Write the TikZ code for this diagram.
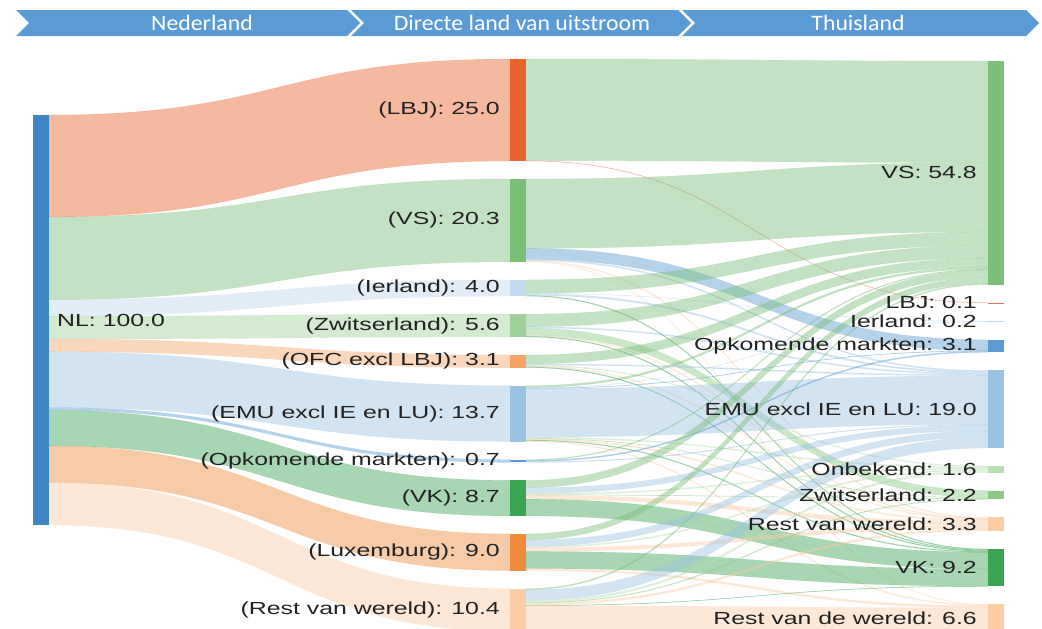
\documentclass[tikz,border=0pt]{standalone}
\usepackage{fontspec}
\setmainfont{Liberation Sans}
\newfontfamily\lblfont[FakeStretch=1.42]{Liberation Sans}
\newfontfamily\headfont[FakeStretch=1.08]{Carlito}
\usepackage{xcolor}
\usepackage{tikz}
\usetikzlibrary{positioning,backgrounds}

\definecolor{headblue}{HTML}{5B9BD5}
\definecolor{txtgray}{HTML}{222222}
\definecolor{cNL}{HTML}{3C86C6}
\definecolor{cLBJ}{HTML}{E8642C}
\definecolor{cVS}{HTML}{7BBF79}
\definecolor{cIE}{HTML}{C2D8EE}
\definecolor{cCH}{HTML}{9FD09A}
\definecolor{cOFC}{HTML}{F5A468}
\definecolor{cEMU}{HTML}{9CC2E2}
\definecolor{cOPK}{HTML}{5B9BD3}
\definecolor{cVK}{HTML}{3BA556}
\definecolor{cLU}{HTML}{F08B3D}
\definecolor{cRVW}{HTML}{FBCDA6}
\definecolor{cLBJr}{HTML}{EE6F5E}
\definecolor{cONB}{HTML}{B8DEB3}
\definecolor{cCHr}{HTML}{8ACA86}

% one band: source, offset at source, target, offset at target, value, colour
\newcommand{\flow}[6]{%
  \path[flowband, fill=#6, draw=#6]
    ([yshift={-4.08pt*(#2)}]#1.north east) .. controls +(231,0) and +(-231,0) ..
    ([yshift={-4.08pt*(#4)}]#3.north west) --
    ([yshift={-4.08pt*(#4+#5)}]#3.north west) .. controls +(-231,0) and +(231,0) ..
    ([yshift={-4.08pt*(#2+#5)}]#1.north east) -- cycle;}

% header arrow piece: left x, right x
\newcommand{\chevron}[2]{%
  \fill[headblue] (#1,10) -- (#2,10) -- (#2+13,23) -- (#2,36) -- (#1,36) -- (#1+13,23) -- cycle;}

\begin{document}
\begin{tikzpicture}[x=1pt, y=-1pt, node distance=18pt,
    landbar/.style={rectangle, inner sep=0pt, outer sep=0pt, minimum width=16pt, minimum height=#1*4.08pt},
    lbl/.style={inner sep=0pt, text=txtgray, font=\lblfont\fontsize{17.5}{20}\selectfont},
    headtxt/.style={inner sep=0pt, text=white, font=\headfont\fontsize{22}{24}\selectfont},
    flowband/.style={fill opacity=0.45, draw opacity=0.25, line width=0.3pt}]
  \useasboundingbox (0,0) rectangle (1042,629);

  % header
  \chevron{16}{347}
  \chevron{351}{678}
  \chevron{682}{1026}
  \node[headtxt] (hNL) at (202,23) {Nederland};
  \node[headtxt] (hDir) at (522,23) {Directe land van uitstroom};
  \node[headtxt] (hThuis) at (858,23) {Thuisland};

  % Nederland
  \node[landbar=100.5, fill=cNL, anchor=north] (nl) at (41,115) {};

  % directe land van uitstroom
  \node[landbar=25.0, fill=cLBJ, anchor=north] (lbjM) at (518,59) {};
  \node[landbar=20.3, fill=cVS, below=of lbjM] (vsM) {};
  \node[landbar=4.0, fill=cIE, below=of vsM] (ieM) {};
  \node[landbar=5.6, fill=cCH, below=of ieM] (chM) {};
  \node[landbar=3.1, fill=cOFC, below=of chM] (ofcM) {};
  \node[landbar=13.7, fill=cEMU, below=of ofcM] (emuM) {};
  \node[landbar=0.7, fill=cOPK, below=of emuM] (opkM) {};
  \node[landbar=8.7, fill=cVK, below=of opkM] (vkM) {};
  \node[landbar=9.0, fill=cLU, below=of vkM] (luM) {};
  \node[landbar=10.4, fill=cRVW, below=of luM] (rvwM) {};

  % thuisland
  \node[landbar=54.8, fill=cVS, anchor=north] (vsR) at (996,61) {};
  \node[landbar=0.1, fill=cLBJr, below=of vsR] (lbjR) {};
  \node[landbar=0.2, fill=cIE, below=of lbjR] (ieR) {};
  \node[landbar=3.1, fill=cOPK, below=of ieR] (opkR) {};
  \node[landbar=19.0, fill=cEMU, below=of opkR] (emuR) {};
  \node[landbar=1.6, fill=cONB, below=of emuR] (onbR) {};
  \node[landbar=2.2, fill=cCHr, below=of onbR] (chR) {};
  \node[landbar=3.3, fill=cRVW, below=of chR] (rvwR) {};
  \node[landbar=9.2, fill=cVK, below=of rvwR] (vkR) {};
  \node[landbar=6.6, fill=cRVW, below=of vkR] (rvdwR) {};

  \begin{pgfonlayer}{background}
    % NL -> directe land
    \flow{nl}{0}{lbjM}{0}{25.0}{cLBJ}
    \flow{nl}{25.0}{vsM}{0}{20.3}{cVS}
    \flow{nl}{45.3}{ieM}{0}{4.0}{cIE}
    \flow{nl}{49.3}{chM}{0}{5.6}{cCH}
    \flow{nl}{54.9}{ofcM}{0}{3.1}{cOFC}
    \flow{nl}{58.0}{emuM}{0}{13.7}{cEMU}
    \flow{nl}{71.7}{opkM}{0}{0.7}{cOPK}
    \flow{nl}{72.4}{vkM}{0}{8.7}{cVK}
    \flow{nl}{81.1}{luM}{0}{9.0}{cLU}
    \flow{nl}{90.1}{rvwM}{0}{10.4}{cRVW}
    % directe land -> thuisland
    \flow{lbjM}{0}{vsR}{0}{24.9}{cVS}
    \flow{lbjM}{24.9}{lbjR}{0}{0.1}{cLBJr}
    \flow{vsM}{0}{vsR}{24.9}{17.0}{cVS}
    \flow{vsM}{17.0}{opkR}{0}{2.7}{cOPK}
    \flow{vsM}{19.7}{emuR}{0}{0.3}{cEMU}
    \flow{vsM}{20.0}{rvwR}{0}{0.2}{cRVW}
    \flow{vsM}{20.2}{rvdwR}{0}{0.1}{cRVW}
    \flow{ieM}{0}{vsR}{41.9}{3.3}{cVS}
    \flow{ieM}{3.3}{ieR}{0}{0.1}{cIE}
    \flow{ieM}{3.4}{emuR}{0.3}{0.4}{cEMU}
    \flow{ieM}{3.8}{vkR}{0}{0.2}{cVK}
    \flow{chM}{0}{vsR}{45.2}{3.1}{cVS}
    \flow{chM}{3.1}{emuR}{0.7}{0.3}{cEMU}
    \flow{chM}{3.4}{chR}{0}{1.8}{cCHr}
    \flow{chM}{5.2}{rvwR}{0.2}{0.2}{cRVW}
    \flow{chM}{5.4}{vkR}{0.2}{0.2}{cVK}
    \flow{ofcM}{0}{vsR}{48.3}{2.2}{cVS}
    \flow{ofcM}{2.2}{emuR}{1.0}{0.3}{cEMU}
    \flow{ofcM}{2.5}{onbR}{0}{0.2}{cONB}
    \flow{ofcM}{2.7}{rvwR}{0.4}{0.2}{cRVW}
    \flow{ofcM}{2.9}{vkR}{0.4}{0.2}{cVK}
    \flow{emuM}{0}{vsR}{50.5}{0.5}{cVS}
    \flow{emuM}{0.5}{ieR}{0.1}{0.1}{cIE}
    \flow{emuM}{0.6}{opkR}{2.7}{0.1}{cOPK}
    \flow{emuM}{0.7}{emuR}{1.3}{11.9}{cEMU}
    \flow{emuM}{12.6}{onbR}{0.2}{0.3}{cONB}
    \flow{emuM}{12.9}{chR}{1.8}{0.1}{cCHr}
    \flow{emuM}{13.0}{rvwR}{0.6}{0.3}{cRVW}
    \flow{emuM}{13.3}{vkR}{0.6}{0.2}{cVK}
    \flow{emuM}{13.5}{rvdwR}{0.1}{0.2}{cRVW}
    \flow{opkM}{0}{vsR}{51.0}{0.2}{cVS}
    \flow{opkM}{0.2}{opkR}{2.8}{0.3}{cOPK}
    \flow{opkM}{0.5}{emuR}{13.2}{0.2}{cEMU}
    \flow{vkM}{0}{vsR}{51.2}{1.8}{cVS}
    \flow{vkM}{1.8}{emuR}{13.4}{1.4}{cEMU}
    \flow{vkM}{3.2}{onbR}{0.5}{0.3}{cONB}
    \flow{vkM}{3.5}{chR}{1.9}{0.1}{cCHr}
    \flow{vkM}{3.6}{rvwR}{0.9}{1.0}{cRVW}
    \flow{vkM}{4.6}{vkR}{0.8}{4.1}{cVK}
    \flow{luM}{0}{vsR}{53.0}{1.5}{cVS}
    \flow{luM}{1.5}{emuR}{14.8}{1.6}{cEMU}
    \flow{luM}{3.1}{onbR}{0.8}{0.3}{cONB}
    \flow{luM}{3.4}{rvwR}{1.9}{0.9}{cRVW}
    \flow{luM}{4.3}{vkR}{4.9}{4.2}{cVK}
    \flow{luM}{8.5}{rvdwR}{0.3}{0.5}{cRVW}
    \flow{rvwM}{0}{vsR}{54.5}{0.3}{cVS}
    \flow{rvwM}{0.3}{emuR}{16.4}{2.6}{cEMU}
    \flow{rvwM}{2.9}{onbR}{1.1}{0.5}{cONB}
    \flow{rvwM}{3.4}{chR}{2.0}{0.2}{cCHr}
    \flow{rvwM}{3.6}{rvwR}{2.8}{0.5}{cRVW}
    \flow{rvwM}{4.1}{vkR}{9.1}{0.1}{cVK}
    \flow{rvwM}{4.2}{rvdwR}{0.8}{5.8}{cRVW}
  \end{pgfonlayer}

  % labels
  \node[lbl, right=8pt of nl] (nlL) {NL: 100.0};
  \node[lbl, left=10pt of lbjM] (lbjML) {(LBJ): 25.0};
  \node[lbl, left=10pt of vsM] (vsML) {(VS): 20.3};
  \node[lbl, left=10pt of ieM] (ieML) {(Ierland): 4.0};
  \node[lbl, left=10pt of chM] (chML) {(Zwitserland): 5.6};
  \node[lbl, left=10pt of ofcM] (ofcML) {(OFC excl LBJ): 3.1};
  \node[lbl, left=10pt of emuM] (emuML) {(EMU excl IE en LU): 13.7};
  \node[lbl, left=10pt of opkM] (opkML) {(Opkomende markten): 0.7};
  \node[lbl, left=10pt of vkM] (vkML) {(VK): 8.7};
  \node[lbl, left=10pt of luM] (luML) {(Luxemburg): 9.0};
  \node[lbl, left=10pt of rvwM] (rvwML) {(Rest van wereld): 10.4};

  \node[lbl, left=11pt of vsR] (vsRL) {VS: 54.8};
  \node[lbl, left=11pt of lbjR] (lbjRL) {LBJ: 0.1};
  \node[lbl, left=11pt of ieR] (ieRL) {Ierland: 0.2};
  \node[lbl, left=11pt of opkR] (opkRL) {Opkomende markten: 3.1};
  \node[lbl, left=11pt of emuR] (emuRL) {EMU excl IE en LU: 19.0};
  \node[lbl, left=11pt of onbR] (onbRL) {Onbekend: 1.6};
  \node[lbl, left=11pt of chR] (chRL) {Zwitserland: 2.2};
  \node[lbl, left=11pt of rvwR] (rvwRL) {Rest van wereld: 3.3};
  \node[lbl, left=11pt of vkR] (vkRL) {VK: 9.2};
  \node[lbl, left=11pt of rvdwR] (rvdwRL) {Rest van de wereld: 6.6};
\end{tikzpicture}
\end{document}
